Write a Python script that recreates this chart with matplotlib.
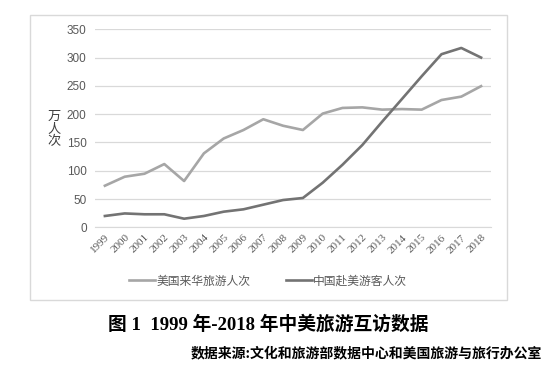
import matplotlib
matplotlib.use("Agg")
import matplotlib.pyplot as plt
from matplotlib.patches import Rectangle

years = [str(y) for y in range(1999, 2019)]
us_to_cn = [73.5, 89.4, 94.7, 111.8, 81.8, 130.7, 157, 172, 191, 179.5,
            172, 201, 211, 212, 208, 209, 208, 225, 231, 249.5]
cn_to_us = [20, 24.5, 23, 23, 15.2, 20, 27.6, 31.8, 40, 48.2,
            51.8, 78.8, 110.6, 145.4, 186.6, 226.7, 267, 306, 317, 300]
series_names = ["美国来华旅游人次", "中国赴美游客人次"]
yticks = [0, 50, 100, 150, 200, 250, 300, 350]
title = "图 1  1999 年-2018 年中美旅游互访数据"
source = "数据来源:文化和旅游部数据中心和美国旅游与旅行办公室"

W, H = 550, 368
fig = plt.figure(figsize=(W / 100, H / 100), dpi=100)

# outer chart frame
fig.patches.append(Rectangle((30 / W, 1 - 300 / H), 477 / W, 285 / H,
                             transform=fig.transFigure, fill=False,
                             edgecolor="#d9d9d9", linewidth=1.0))

ax = fig.add_axes([95 / W, 1 - 227.3 / H, (491 - 95) / W, (227.3 - 29.3) / H])
x = list(range(len(years)))
ax.plot(x, us_to_cn, color="#a6a6a6", linewidth=1.9, label=series_names[0])
ax.plot(x, cn_to_us, color="#737373", linewidth=1.9, label=series_names[1])
ax.set_xlim(-0.5, len(years) - 0.5)
ax.set_ylim(0, 350)
ax.set_yticks(yticks)
ax.set_yticklabels([str(v) for v in yticks], family="Liberation Sans",
                   fontsize=8.5, color="#595959")
ax.set_xticks(x)
ax.set_xticklabels(years, rotation=45, ha="right", rotation_mode="anchor",
                   family="Liberation Serif", fontsize=8, color="#595959")
ax.tick_params(length=0, pad=6)
ax.tick_params(axis="x", pad=4)
ax.grid(axis="y", color="#d9d9d9", linewidth=0.9)
ax.set_axisbelow(True)
for s in ["top", "right", "left"]:
    ax.spines[s].set_visible(False)
ax.spines["bottom"].set_color("#d9d9d9")

fig.text(54 / W, 1 - 129 / H, "万\n人\n次", family="Noto Sans CJK SC",
         fontsize=9.5, color="#404040", ha="center", va="center", linespacing=0.95)

leg = fig.legend(loc="center", bbox_to_anchor=(268 / W, 1 - 281 / H),
                 ncol=2, frameon=False, handlelength=2.2, handletextpad=0.1,
                 columnspacing=3.0, prop={"family": "Noto Sans CJK SC", "size": 8.5})
for t in leg.get_texts():
    t.set_color("#595959")

fig.text(268 / W, 1 - 325 / H, title, family=["Liberation Serif", "Noto Sans CJK SC"],
         fontsize=13.5, fontweight="bold", ha="center", va="center", color="black")
fig.text(542 / W, 1 - 353 / H, source, family="Noto Sans CJK SC",
         fontsize=10, fontweight="bold", ha="right", va="center", color="black")

fig.savefig("out.png", dpi=100)
